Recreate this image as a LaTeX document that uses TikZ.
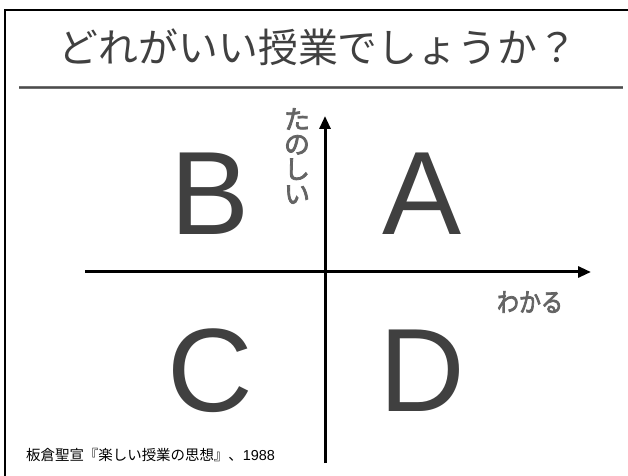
\documentclass[tikz,border=0pt]{standalone}
\usepackage{fontspec}
\setmainfont{Liberation Sans}
\newfontfamily\jp{Noto Sans CJK JP}
\newfontfamily\jplab[FakeBold=3]{Noto Sans CJK JP}
\usetikzlibrary{arrows.meta}
\definecolor{titlegray}{HTML}{404040}
\definecolor{labelgray}{HTML}{646464}
\definecolor{rulegray}{HTML}{707070}
\tikzset{
  quad/.style={font=\fontsize{119}{119}\selectfont, text=titlegray, inner sep=0pt, anchor=center},
  axis/.style={line width=3bp, -{Triangle[length=13bp,width=11bp]}},
  axlabel/.style={font=\jplab\fontsize{26}{25}\selectfont, text=labelgray, inner sep=0pt},
}
\begin{document}
\begin{tikzpicture}[x=1bp,y=-1bp]
\useasboundingbox (0,0) rectangle (628,476);
\fill[white] (0,0) rectangle (628,476);
% frame
\draw[line width=2bp] (5,480) -- (5,10) -- (632,10);
% title
\node[font=\jp\fontsize{40}{44}\selectfont, text=titlegray, inner sep=0pt] (title) at (318,47) {どれがいい授業でしょうか？};
% title rule
\draw[line width=3bp, rulegray] (19,88) -- (623,88);
\draw[line width=1bp, black!70] (19,88) -- (623,88);
% axes
\coordinate (hs) at (85,272);
\coordinate (he) at (591,272);
\coordinate (vs) at (325,463);
\coordinate (ve) at (325,116);
\draw[axis] (hs) -- (he);
\draw[axis] (vs) -- (ve);
% axis labels
\node[axlabel, align=center] (tano) at (297,156) {た\\の\\し\\い};
\node[axlabel, xscale=0.85, transform shape] (wakaru) at (530,302) {わかる};
% quadrant letters
\node[quad] (B) at (210,194) {B};
\node[quad] (A) at (422,194) {A};
\node[quad] (C) at (210,371) {C};
\node[quad] (D) at (422,371) {D};
% citation
\node[font=\jp\fontsize{14.5}{16}\selectfont, anchor=west, inner sep=0pt] (cite) at (26,455) {板倉聖宣『楽しい授業の思想』、\fontspec{Liberation Sans}1988};
\end{tikzpicture}
\end{document}
